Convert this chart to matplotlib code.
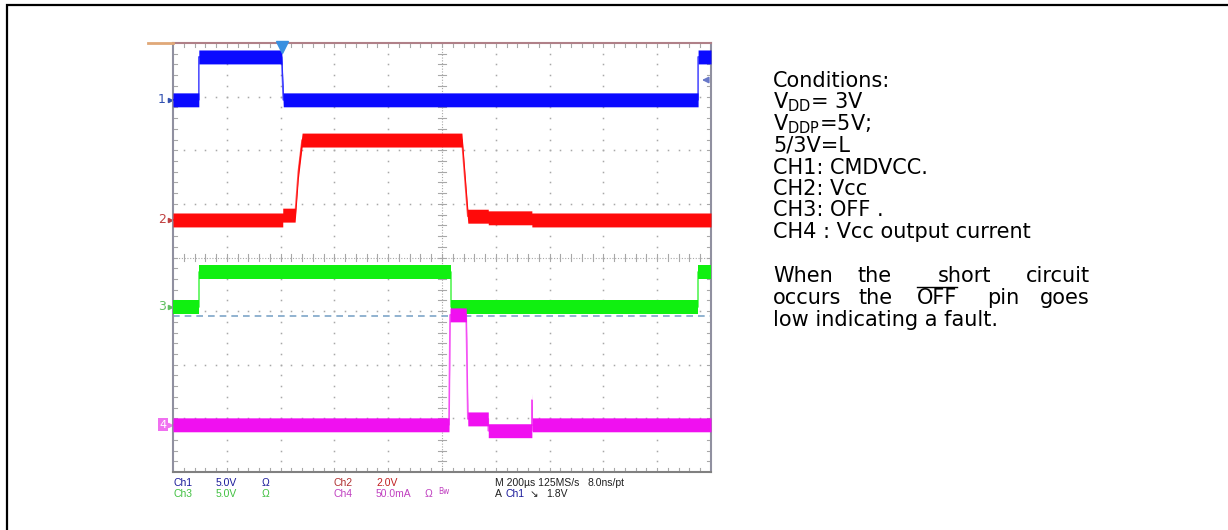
import matplotlib
matplotlib.use("Agg")
import matplotlib.pyplot as plt
from matplotlib.patches import Rectangle
import numpy as np

W, H = 1228, 530

# trace data in screen divisions (x: 0..10, y: 0..8 from bottom)
ch1_t = [0, 0.48, 0.48, 2.02, 2.05, 9.76, 9.76, 10]
ch1_v = [6.94, 6.94, 7.74, 7.74, 6.94, 6.94, 7.74, 7.74]

ch2_t = [0, 2.04, 2.04, 2.27, 2.33, 2.40, 5.37, 5.48, 5.86, 5.86, 6.67, 6.67, 10]
ch2_v = [4.70, 4.70, 4.79, 4.79, 5.60, 6.19, 6.19, 4.77, 4.77, 4.74, 4.74, 4.70, 4.70]

ch3_t = [0, 0.48, 0.48, 5.17, 5.17, 9.76, 9.76, 10]
ch3_v = [3.08, 3.08, 3.73, 3.73, 3.08, 3.08, 3.73, 3.73]

ch4_t = [0, 5.13, 5.15, 5.45, 5.48, 5.86, 5.86, 6.67, 6.67, 6.68, 6.69, 10]
ch4_v = [0.88, 0.88, 2.93, 2.93, 0.99, 0.99, 0.77, 0.77, 1.34, 0.88, 0.88, 0.88]

ref_level = 2.91  # dashed line
trig_t = 2.03
trig_level = 7.31

colors = {"ch1": "#0a0aff", "ch2": "#ff0a0a", "ch3": "#10f010", "ch4": "#f010f0"}

conditions = ["Conditions:", r"V$_\mathregular{DD}$= 3V", r"V$_\mathregular{DDP}$=5V;", "5/3V=L",
              "CH1: CMDVCC.", "CH2: Vcc", "CH3: OFF .", "CH4 : Vcc output current"]

fig = plt.figure(figsize=(W / 100, H / 100), dpi=100)


def px(x, y):
    return x / W, 1 - y / H


# outer frame
fig.patches.append(Rectangle(px(7, 600), 1300 / W, 595 / H, transform=fig.transFigure,
                             fill=False, edgecolor="black", lw=1.6))

x0, y0, x1, y1 = 173, 43, 711, 472
ax = fig.add_axes([x0 / W, 1 - y1 / H, (x1 - x0) / W, (y1 - y0) / H])
ax.set_xlim(0, 10)
ax.set_ylim(0, 8)
ax.set_xticks([])
ax.set_yticks([])
for s in ax.spines.values():
    s.set_linewidth(1.5)
ax.spines["left"].set_color("#9090a0")
ax.spines["right"].set_color("#9090a0")
ax.spines["bottom"].set_color("#808080")
ax.spines["top"].set_color("#b08088")

gc = "#a8a8a8"
sub = np.arange(0.2, 10, 0.2)
subv = np.arange(0.2, 8, 0.2)
for k in range(1, 10):
    if k != 5:
        ax.plot(np.full_like(subv, k), subv, ls="none", marker="s", ms=1.1, mec="none", mfc=gc, zorder=1)
for k in range(1, 8):
    if k != 4:
        ax.plot(sub, np.full_like(sub, k), ls="none", marker="s", ms=1.1, mec="none", mfc=gc, zorder=1)
# center lines with ticks
ax.plot([5, 5], [0, 8], color=gc, lw=0.8, ls=(0, (1, 1.5)), zorder=1)
ax.plot([0, 10], [4, 4], color=gc, lw=0.8, ls=(0, (1, 1.5)), zorder=1)
for v in sub:
    ax.plot([v, v], [3.93, 4.07], color=gc, lw=0.8, zorder=1)
    ax.plot([v, v], [0, 0.07], color=gc, lw=0.8, zorder=1)
    ax.plot([v, v], [7.93, 8], color=gc, lw=0.8, zorder=1)
for v in subv:
    ax.plot([4.93, 5.07], [v, v], color=gc, lw=0.8, zorder=1)
    ax.plot([0, 0.07], [v, v], color=gc, lw=0.8, zorder=1)
    ax.plot([9.93, 10], [v, v], color=gc, lw=0.8, zorder=1)

ax.plot([0, 10], [ref_level, ref_level], color="#7ea6c8", lw=1.2, ls=(0, (4, 3)), zorder=2)

hw = 0.13
for key, t, v in [("ch1", ch1_t, ch1_v), ("ch2", ch2_t, ch2_v),
                  ("ch3", ch3_t, ch3_v), ("ch4", ch4_t, ch4_v)]:
    t = np.array(t)
    v = np.array(v)
    ax.fill_between(t, v - hw, v + hw, color=colors[key], lw=0, zorder=3)
    ax.plot(t, v, color=colors[key], lw=1.2, alpha=0.7, zorder=3)

# trigger markers
ax.plot(trig_t, 7.93, marker="v", ms=8, color="#3a90e0", clip_on=False, zorder=4)
ax.annotate("", xy=(9.78, trig_level), xytext=(10, trig_level),
            arrowprops=dict(arrowstyle="-|>", color="#6878c8", lw=1.2, mutation_scale=9))

# orange line left of the top edge
fig.add_artist(plt.Line2D([148 / W, 173 / W], [1 - 43 / H] * 2, color="#e0a878", lw=2))

# ground markers
for lab, lev, col in [("1", ch1_v[0], "#3050b0"), ("2", ch2_v[0], "#c04040"), ("3", ch3_v[0], "#60c060")]:
    ax.text(-0.13, lev, lab, color=col, fontsize=9, ha="right", va="center", clip_on=False)
    ax.plot(-0.05, lev, marker=">", ms=3, color=col, clip_on=False)
ax.text(-0.12, ch4_v[0], "4", color="white", fontsize=8, ha="right", va="center", clip_on=False,
        bbox=dict(boxstyle="square,pad=0.15", fc="#f070f0", ec="none"))
ax.plot(-0.05, ch4_v[0], marker=">", ms=3, color="#f070f0", clip_on=False)

# scope status line
fs = 7.5
rows = [
    [(173, "Ch1", "#1a1a9a"), (216, "5.0V", "#1a1a9a"), (262, "Ω", "#1a1a9a"),
     (334, "Ch2", "#b03030"), (376, "2.0V", "#c02020"),
     (495, "M 200µs 125MS/s", "#202020"), (587, "8.0ns/pt", "#202020")],
    [(173, "Ch3", "#40c040"), (216, "5.0V", "#40c040"), (262, "Ω", "#40c040"),
     (334, "Ch4", "#c040c0"), (376, "50.0mA", "#c040c0"), (425, "Ω", "#c040c0"),
     (495, "A", "#202020"), (506, "Ch1", "#1a1a9a"), (530, "↘", "#202020"), (546, "1.8V", "#202020")],
]
for yy, row in zip([483, 494], rows):
    for xx, s, c in row:
        fig.text(*px(xx, yy), s, color=c, fontsize=fs, ha="left", va="center",
                 family=["Liberation Sans", "DejaVu Sans"])
fig.text(*px(438, 491), "Bw", color="#c040c0", fontsize=5.5, ha="left", va="center")

# conditions text
tf = dict(fontsize=15, family="DejaVu Sans", color="black", va="baseline")
ys = [87, 108.5, 130, 152, 173.5, 195, 216.5, 238]
for yy, s in zip(ys, conditions):
    fig.text(*px(773, yy), s, ha="left", **tf)

words1 = [(773, "When", "left"), (875, "the", "center"), (965, "short", "center"), (1090, "circuit", "right")]
words2 = [(773, "occurs", "left"), (876, "the", "center"), (937, "OFF", "center"),
          (1003, "pin", "center"), (1090, "goes", "right")]
for xx, s, a in words1:
    fig.text(*px(xx, 282), s, ha=a, **tf)
off = None
for xx, s, a in words2:
    t = fig.text(*px(xx, 304), s, ha=a, **tf)
    if s == "OFF":
        off = t
fig.text(*px(773, 326), "low indicating a fault.", ha="left", **tf)

# overline on OFF
fig.canvas.draw()
bb = off.get_window_extent()
yl = (bb.y1 + 1) / H
fig.add_artist(plt.Line2D([bb.x0 / W, bb.x1 / W], [yl, yl], color="black", lw=1.0))

fig.savefig("out.png", dpi=100)
